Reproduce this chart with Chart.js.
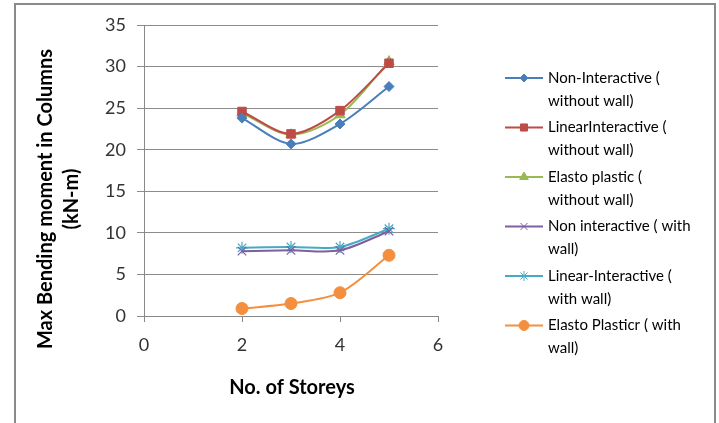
<!DOCTYPE html>
<html>
<head>
<meta charset="utf-8">
<script src="https://cdn.jsdelivr.net/npm/chart.js@4"></script>
<style>
  html, body { margin: 0; padding: 0; background: #fff; }
  #wrap { width: 719px; height: 423px; position: relative; }
</style>
</head>
<body>
<div id="wrap"><canvas id="chart" width="719" height="423"></canvas></div>
<script>
// storeys on the x axis
const storeys = [2, 3, 4, 5];

const nonInterNoWall = [23.8, 20.7, 23.1, 27.6];
const linInterNoWall = [24.6, 21.9, 24.7, 30.4];
const elastoNoWall = [24.4, 21.8, 24.2, 30.6];
const nonInterWall = [7.8, 7.9, 7.9, 10.2];
const linInterWall = [8.2, 8.3, 8.3, 10.5];
const elastoWall = [0.9, 1.5, 2.8, 7.3];

const seriesNames = [
  ['Non-Interactive (', 'without wall)'],
  ['LinearInteractive (', 'without wall)'],
  ['Elasto plastic (', 'without wall)'],
  ['Non interactive ( with', 'wall)'],
  ['Linear-Interactive (', 'with wall)'],
  ['Elasto Plasticr ( with', 'wall)']
];

const xTicks = [0, 2, 4, 6];
const yTicks = [0, 5, 10, 15, 20, 25, 30, 35];

const FONT = 'Lato, "Open Sans", sans-serif';

const styles = [
  { color: '#4A7EBB', fill: '#4A7EBB', point: 'rectRot', r: 5 },
  { color: '#BE4B48', fill: '#BE4B48', point: 'rect', r: 6 },
  { color: '#98B954', fill: '#98B954', point: 'triangle', r: 6 },
  { color: '#7D60A0', fill: '#A08CC0', point: 'crossRot', r: 6 },
  { color: '#46AAC5', fill: '#46AAC5', point: 'star', r: 6 },
  { color: '#F38F3E', fill: '#F38F3E', point: 'circle', r: 6 }
];

const allData = [nonInterNoWall, linInterNoWall, elastoNoWall, nonInterWall, linInterWall, elastoWall];

const datasets = allData.map((vals, i) => ({
  label: seriesNames[i].join(' '),
  data: storeys.map((s, j) => ({ x: s, y: vals[j] })),
  showLine: true,
  borderColor: styles[i].color,
  backgroundColor: styles[i].fill,
  pointBorderColor: styles[i].color,
  pointBackgroundColor: styles[i].fill,
  pointStyle: styles[i].point,
  pointRadius: styles[i].r,
  pointBorderWidth: (styles[i].point === 'crossRot' || styles[i].point === 'star') ? 1.2 : 1,
  borderWidth: 2,
  tension: 0.3,
  cubicInterpolationMode: 'default'
}));

// border, axis titles and legend drawn by hand (Excel-style layout)
const decorations = {
  id: 'decorations',
  afterDraw(chart) {
    const ctx = chart.ctx;
    ctx.save();
    ctx.strokeStyle = '#8a8a8a';
    ctx.lineWidth = 2;
    ctx.beginPath();
    ctx.moveTo(15, 430);
    ctx.lineTo(15, 4);
    ctx.lineTo(715, 4);
    ctx.lineTo(715, 430);
    ctx.stroke();

    // axis titles
    ctx.fillStyle = '#000';
    ctx.font = 'bold 20px ' + FONT;
    ctx.textAlign = 'center';
    ctx.textBaseline = 'middle';
    ctx.fillText('No. of Storeys', 292, 388);

    ctx.save();
    ctx.translate(46, 199);
    ctx.rotate(-Math.PI / 2);
    ctx.fillText('Max Bending moment in Columns', 0, 0);
    ctx.fillText('(kN-m)', 0, 26);
    ctx.restore();

    // legend
    ctx.font = '15px ' + FONT;
    ctx.textAlign = 'left';
    ctx.textBaseline = 'middle';
    seriesNames.forEach((lines, i) => {
      const y = 78 + i * 49.5;
      const st = styles[i];
      ctx.strokeStyle = st.color;
      ctx.lineWidth = 2;
      ctx.beginPath();
      ctx.moveTo(505, y);
      ctx.lineTo(543, y);
      ctx.stroke();
      ctx.fillStyle = st.fill;
      ctx.strokeStyle = st.color;
      ctx.lineWidth = 1;
      Chart.helpers.drawPoint(ctx, {
        pointStyle: st.point,
        radius: st.r - 1,
        rotation: 0,
        borderWidth: 1
      }, 524, y);
      ctx.fillStyle = '#000';
      ctx.fillText(lines[0], 548, y);
      ctx.fillText(lines[1], 548, y + 23);
    });
    ctx.restore();
  }
};

new Chart(document.getElementById('chart'), {
  type: 'scatter',
  data: { datasets },
  options: {
    responsive: false,
    animation: false,
    devicePixelRatio: 1,
    layout: { padding: { left: 0, top: 25, right: 281, bottom: 0 } },
    plugins: {
      legend: { display: false },
      tooltip: { enabled: false }
    },
    scales: {
      x: {
        type: 'linear',
        min: 0,
        max: 6,
        afterBuildTicks: s => { s.ticks = xTicks.map(v => ({ value: v })); },
        afterFit: s => { s.height = 107; },
        grid: { drawOnChartArea: false, drawTicks: true, tickLength: 6, color: '#888', lineWidth: 1 },
        border: { color: '#888', width: 1 },
        ticks: { color: '#333', font: { family: FONT, size: 18 }, padding: 12 }
      },
      y: {
        type: 'linear',
        min: 0,
        max: 35,
        afterBuildTicks: s => { s.ticks = yTicks.map(v => ({ value: v })); },
        afterFit: s => { s.width = 144; },
        grid: { drawOnChartArea: true, drawTicks: true, tickLength: 7, color: '#8c8c8c', lineWidth: 1 },
        border: { color: '#888', width: 1 },
        ticks: { color: '#333', font: { family: FONT, size: 18 }, padding: 11 }
      }
    }
  },
  plugins: [decorations]
});
</script>
</body>
</html>
